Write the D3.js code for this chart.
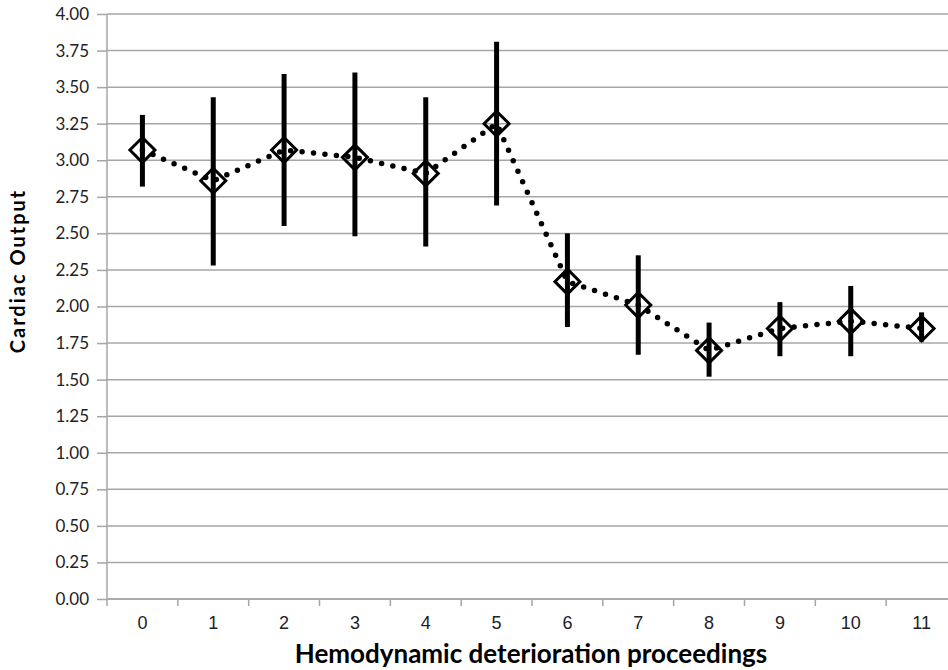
<!DOCTYPE html>
<html>
<head>
<meta charset="utf-8">
<script src="https://cdn.jsdelivr.net/npm/d3@7"></script>
<style>
  body { margin: 0; background: #fff; }
  svg { display: block; }
</style>
</head>
<body>
<div id="chart"></div>
<script>
// values
var steps = ["0", "1", "2", "3", "4", "5", "6", "7", "8", "9", "10", "11"]
var meanCO = [3.07, 2.86, 3.07, 3.02, 2.91, 3.25, 2.17, 2.01, 1.70, 1.85, 1.90, 1.85]
var upperCO = [3.31, 3.43, 3.59, 3.60, 3.43, 3.81, 2.50, 2.35, 1.89, 2.03, 2.14, 1.96]
var lowerCO = [2.82, 2.28, 2.55, 2.48, 2.41, 2.69, 1.86, 1.67, 1.52, 1.66, 1.66, 1.76]
var yTicks = d3.range(0, 4.001, 0.25)

var width = 948, height = 670
var plotLeft = 107, plotRight = 957, plotTop = 14, plotBottom = 599

var svg = d3.select("#chart").append("svg")
    .attr("width", width)
    .attr("height", height)

var x = d3.scaleBand().domain(steps).range([plotLeft, plotRight])
var y = d3.scaleLinear().domain([0, 4]).range([plotBottom, plotTop])

// gridlines
svg.append("g")
  .selectAll("line")
  .data(yTicks)
  .enter()
  .append("line")
    .attr("x1", plotLeft)
    .attr("x2", plotRight)
    .attr("y1", d => y(d))
    .attr("y2", d => y(d))
    .attr("stroke", "#a6a6a6")
    .attr("stroke-width", 1.5)

// y axis
var yAxis = svg.append("g")
    .attr("transform", "translate(" + plotLeft + ",0)")
    .call(d3.axisLeft(y).tickValues(yTicks).tickFormat(d3.format(".2f")).tickSize(10).tickPadding(8))
yAxis.selectAll("line, path").attr("stroke", "#a6a6a6").attr("stroke-width", 1.5)
yAxis.select("path").attr("d", "M0," + plotTop + "V" + plotBottom)
yAxis.selectAll("text")
    .attr("font-family", "Lato, 'Open Sans', sans-serif")
    .attr("font-size", 17)
    .attr("fill", "#222")

// x axis
var xAxis = svg.append("g")
    .attr("transform", "translate(0," + plotBottom + ")")
    .call(d3.axisBottom(x).tickSize(0).tickPadding(17))
xAxis.select("path").attr("d", "M" + plotLeft + ",0H" + plotRight).attr("stroke", "#a6a6a6").attr("stroke-width", 1.5)
xAxis.selectAll("text")
    .attr("font-family", "'Liberation Sans', Arial, sans-serif")
    .attr("font-size", 18)
    .attr("fill", "#222")
// tick marks between categories
svg.append("g")
  .selectAll("line")
  .data(steps)
  .enter()
  .append("line")
    .attr("x1", d => x(d))
    .attr("x2", d => x(d))
    .attr("y1", plotBottom)
    .attr("y2", plotBottom + 7)
    .attr("stroke", "#a6a6a6")
    .attr("stroke-width", 1.5)

// dotted line through the means
var line = d3.line()
    .x((d, i) => x(steps[i]) + x.bandwidth() / 2)
    .y(d => y(d))
svg.append("path")
    .datum(meanCO)
    .attr("d", line)
    .attr("fill", "none")
    .attr("stroke", "#000")
    .attr("stroke-width", 5.5)
    .attr("stroke-linecap", "round")
    .attr("stroke-dasharray", "0 11.5")

// error bars
svg.append("g")
  .selectAll("line")
  .data(steps)
  .enter()
  .append("line")
    .attr("x1", d => x(d) + x.bandwidth() / 2)
    .attr("x2", d => x(d) + x.bandwidth() / 2)
    .attr("y1", (d, i) => y(upperCO[i]))
    .attr("y2", (d, i) => y(lowerCO[i]))
    .attr("stroke", "#000")
    .attr("stroke-width", 5)

// diamond markers
var r = 12.5
svg.append("g")
  .selectAll("path")
  .data(meanCO)
  .enter()
  .append("path")
    .attr("transform", (d, i) => "translate(" + (x(steps[i]) + x.bandwidth() / 2) + "," + y(d) + ")")
    .attr("d", "M0," + (-r) + "L" + r + ",0L0," + r + "L" + (-r) + ",0Z")
    .attr("fill", "none")
    .attr("stroke", "#000")
    .attr("stroke-width", 3)

// axis titles
svg.append("text")
    .attr("transform", "translate(25,271) rotate(-90)")
    .attr("text-anchor", "middle")
    .attr("font-family", "Lato, 'Open Sans', sans-serif")
    .attr("font-weight", "bold")
    .attr("font-size", 20)
    .attr("letter-spacing", 2)
    .text("Cardiac Output")

svg.append("text")
    .attr("x", 531)
    .attr("y", 663)
    .attr("text-anchor", "middle")
    .attr("font-family", "Lato, 'Open Sans', sans-serif")
    .attr("font-weight", "bold")
    .attr("font-size", 26)
    .text("Hemodynamic deterioration proceedings")
</script>
</body>
</html>
